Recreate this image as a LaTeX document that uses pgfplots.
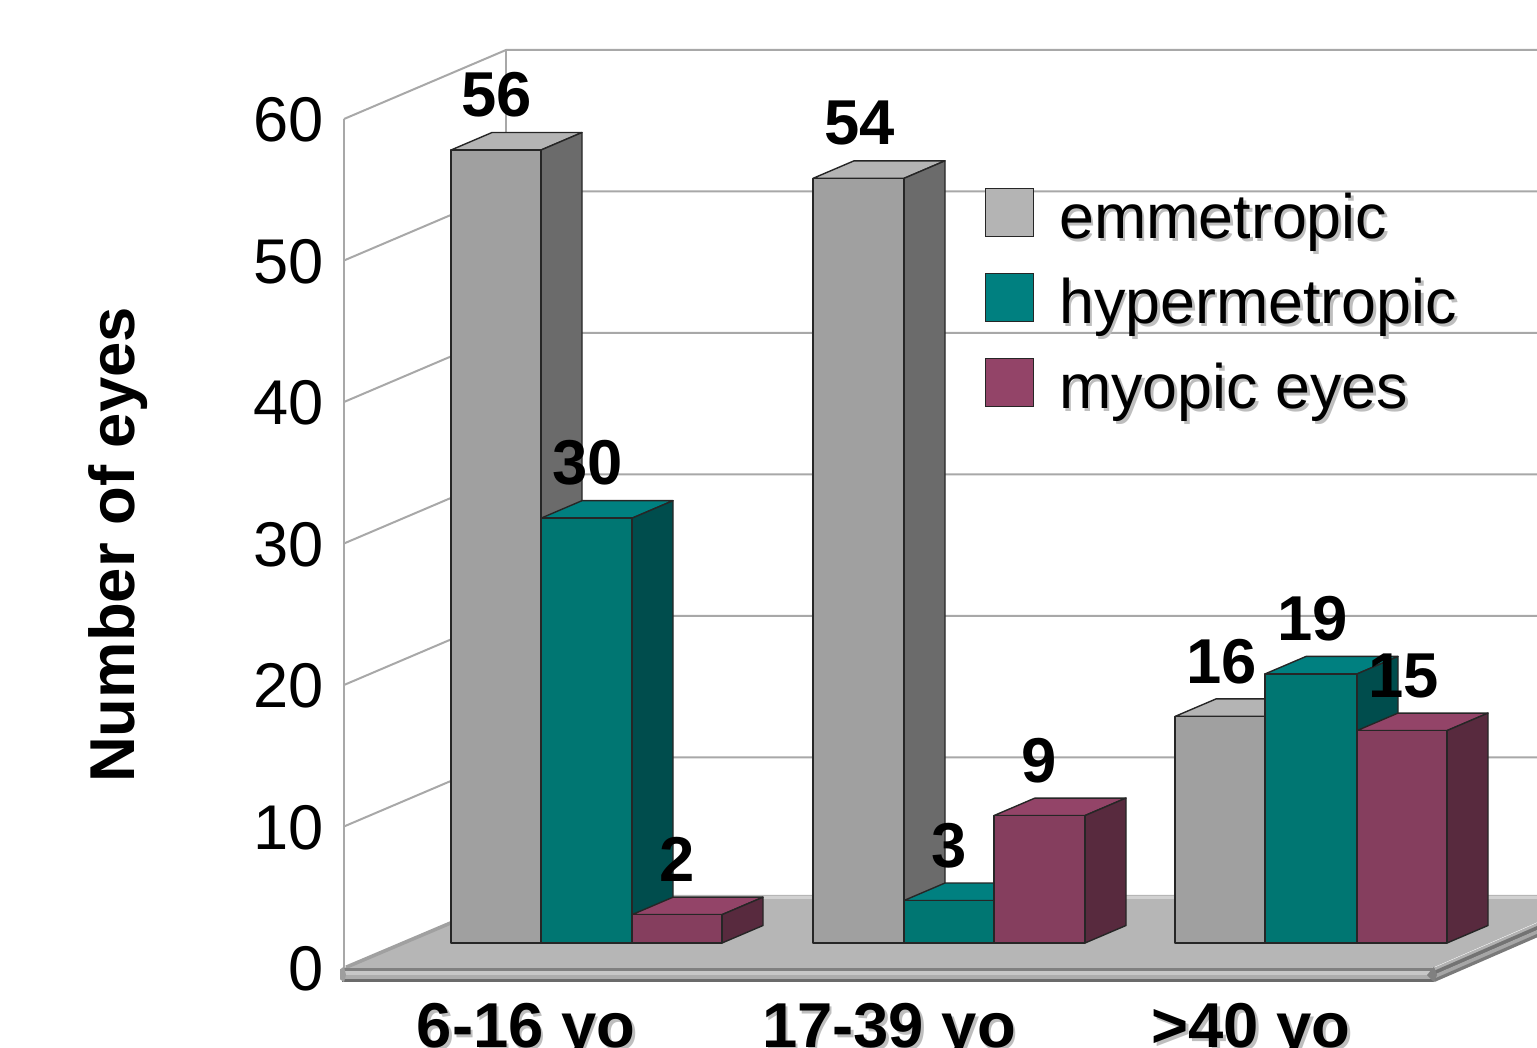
\documentclass[border=0pt]{standalone}
\usepackage{fontspec}
\setmainfont{Liberation Sans}
\usepackage{pgfplots}
\pgfplotsset{compat=1.18}

% bar faces: front, side, top
\definecolor{grayF}{HTML}{A0A0A0}\definecolor{grayS}{HTML}{6B6B6B}\definecolor{grayT}{HTML}{B4B4B4}
\definecolor{tealF}{HTML}{007672}\definecolor{tealS}{HTML}{004D4D}\definecolor{tealT}{HTML}{008080}
\definecolor{plumF}{HTML}{853E5E}\definecolor{plumS}{HTML}{582A3E}\definecolor{plumT}{HTML}{934468}
\definecolor{wall}{HTML}{A8A8A8}
\definecolor{floorc}{HTML}{B6B6B6}
\definecolor{edge}{HTML}{262626}
\definecolor{textshadow}{HTML}{BEBEBE}

\newcommand{\bigfont}{\fontsize{31.4}{36}\selectfont}
\newcommand{\tickfont}{\fontsize{31.6}{36}\selectfont}
\newcommand{\boldfont}{\fontsize{31.7}{36}\selectfont\bfseries}
\newcommand{\shadowed}[2][1.3pt]{\makebox[0pt][l]{\kern#1\raisebox{-#1}{\textcolor{textshadow}{#2}}}#2}
\newcommand{\legtext}[1]{\rule{0pt}{24pt}\rule[-8pt]{0pt}{8pt}\shadowed{#1}}

% a box standing on the floor: x from #1 to #2, height #3, colour prefix #4
\newcommand{\prism}[4]{%
  \pgfmathsetmacro\xa{#2+41}\pgfmathsetmacro\xb{#1+41}%
  \pgfmathsetmacro\ya{#3+1.236}\pgfmathsetmacro\yb{1.236}%
  \edef\tmp{\noexpand\addplot[forget plot,fill=#4T,draw=edge,line width=.7pt,line join=round]
    coordinates {(#1,#3)(#2,#3)(\xa,\ya)(\xb,\ya)} -- cycle;
    \noexpand\addplot[forget plot,fill=#4S,draw=edge,line width=.7pt,line join=round]
    coordinates {(#2,0)(\xa,\yb)(\xa,\ya)(#2,#3)} -- cycle;
    \noexpand\addplot[forget plot,fill=#4F,draw=edge,line width=.7pt,line join=round]
    coordinates {(#1,0)(#2,0)(#2,#3)(#1,#3)} -- cycle;}\tmp}
\newcommand{\vallabel}[2]{\node[font=\boldfont,inner sep=0pt,yshift=27.5pt] at (axis cs:#1,#2) {#2};}
% wall lines at one height value
\newcommand{\wallline}[1]{%
  \pgfmathsetmacro\yb{#1+4.876}%
  \edef\tmp{\noexpand\addplot[forget plot,draw=wall,line width=1pt]
    coordinates {(344,#1)(506,\yb)(1600,\yb)};}\tmp}
\newcommand{\strip}[4]{\addplot[forget plot,draw=#1,line width=#2] coordinates {#3 #4};}

\begin{document}
\begin{tikzpicture}[x=1pt,y=1pt]
\path[use as bounding box,clip] (0,0) rectangle (768.5pt,524pt);

% walls, floor plate and the value scale
\begin{axis}[
  at={(172pt,0pt)},anchor=south west,
  scale only axis,width=596.5pt,height=524pt,
  xmin=344,xmax=1537,
  ymin=-5.654,ymax=68.41,
  clip=false,
  axis line style={draw=none},
  xtick=\empty,
  ytick={0,10,20,30,40,50,60},
  major tick length=0pt,
  ytick style={draw=none},
  /pgf/number format/assume math mode=true,
  yticklabel style={font=\tickfont,inner sep=0pt,xshift=-10pt,yshift=-0.5pt},
  ylabel={Number of eyes},
  every axis y label/.append style={at={(axis description cs:-0.1895,0.48)},rotate=0,anchor=center,font=\boldfont},
]
\wallline{10}\wallline{20}\wallline{30}\wallline{40}\wallline{50}\wallline{60}
\addplot[forget plot,draw=wall,line width=1pt] coordinates {(344,0)(344,60)};
\addplot[forget plot,draw=wall,line width=1pt] coordinates {(506,4.876)(506,64.876)};
% floor surface
\addplot[forget plot,fill=floorc,draw=none] coordinates {(344,0)(1432,0)(1600,5.16)(512,5.16)} -- cycle;
\strip{black!18!white}{1.4pt}{(505,5.0)}{(1600,5.0)}
\strip{grayF}{1.8pt}{(346,0.05)}{(508,4.9)}
% front edge of the plate
\strip{black!50!white}{1.6pt}{(342,-0.106)}{(1434,-0.106)}
\strip{black!22!white}{2pt}{(342,-0.353)}{(1434,-0.353)}
\strip{black!32!white}{2pt}{(342,-0.636)}{(1434,-0.636)}
\strip{black!58!white}{1.6pt}{(342,-0.883)}{(1434,-0.883)}
% right edge of the plate
\strip{black!30!white}{1.6pt}{(1434,-0.106)}{(1602,5.05)}
\strip{black!55!white}{2pt}{(1434,-0.353)}{(1602,4.81)}
\strip{black!35!white}{2pt}{(1434,-0.636)}{(1602,4.52)}
\strip{black!52!white}{1.6pt}{(1434,-0.883)}{(1602,4.28)}
\addplot[forget plot,fill=black!50!white,draw=none] coordinates {(1427,-0.5)(1434,0.1)(1437,-0.5)(1434,-1)} -- cycle;
\addplot[forget plot,fill=black!38!white,draw=none] coordinates {(340,-0.1)(344,0.1)(346,-0.5)(344,-1)(340,-0.8)} -- cycle;
\end{axis}

% bars, their values, group names and legend
\begin{axis}[
  at={(0pt,0pt)},anchor=south west,
  scale only axis,width=768.5pt,height=524pt,
  xmin=0,xmax=1537,
  ymin=-7.415,ymax=66.596,
  clip=false,
  axis line style={draw=none},
  ytick=\empty,
  xtick={526,889,1251},
  xticklabels={\shadowed{6-16 yo},\shadowed{17-39 yo},\shadowed{>40 yo}},
  major tick length=0pt,
  xtick style={draw=none},
  xticklabel style={font=\boldfont,anchor=base,inner sep=0pt},
  legend style={
    at={(axis cs:985,53.39)},anchor=north west,
    draw=none,fill=none,font=\bigfont,
    inner sep=0pt,outer sep=0pt,
    cells={anchor=west,inner sep=0pt},
    row sep=13pt,
    /tikz/every odd column/.append style={column sep=10.5pt},
  },
  legend cell align=left,
]
\prism{451}{541}{56}{gray}
\prism{541}{632}{30}{teal}
\prism{632}{722}{2}{plum}
\prism{813}{904}{54}{gray}
\prism{904}{994}{3}{teal}
\prism{994}{1085}{9}{plum}
\prism{1175}{1265}{16}{gray}
\prism{1265}{1357}{19}{teal}
\prism{1357}{1447}{15}{plum}
\vallabel{497}{56}\vallabel{587.5}{30}\vallabel{677.5}{2}
\vallabel{859.5}{54}\vallabel{949.5}{3}\vallabel{1039.5}{9}
\vallabel{1221.5}{16}\vallabel{1312.5}{19}\vallabel{1403.5}{15}
\addlegendimage{legend image code/.code={\draw[fill=grayT,draw=edge,line width=.6pt] (0pt,-10pt) rectangle (24pt,14pt);}}
\addlegendentry{\legtext{emmetropic}}
\addlegendimage{legend image code/.code={\draw[fill=tealT,draw=edge,line width=.6pt] (0pt,-10pt) rectangle (24pt,14pt);}}
\addlegendentry{\legtext{hypermetropic}}
\addlegendimage{legend image code/.code={\draw[fill=plumT,draw=edge,line width=.6pt] (0pt,-10pt) rectangle (24pt,14pt);}}
\addlegendentry{\legtext{myopic eyes}}
\end{axis}
\end{tikzpicture}
\end{document}
